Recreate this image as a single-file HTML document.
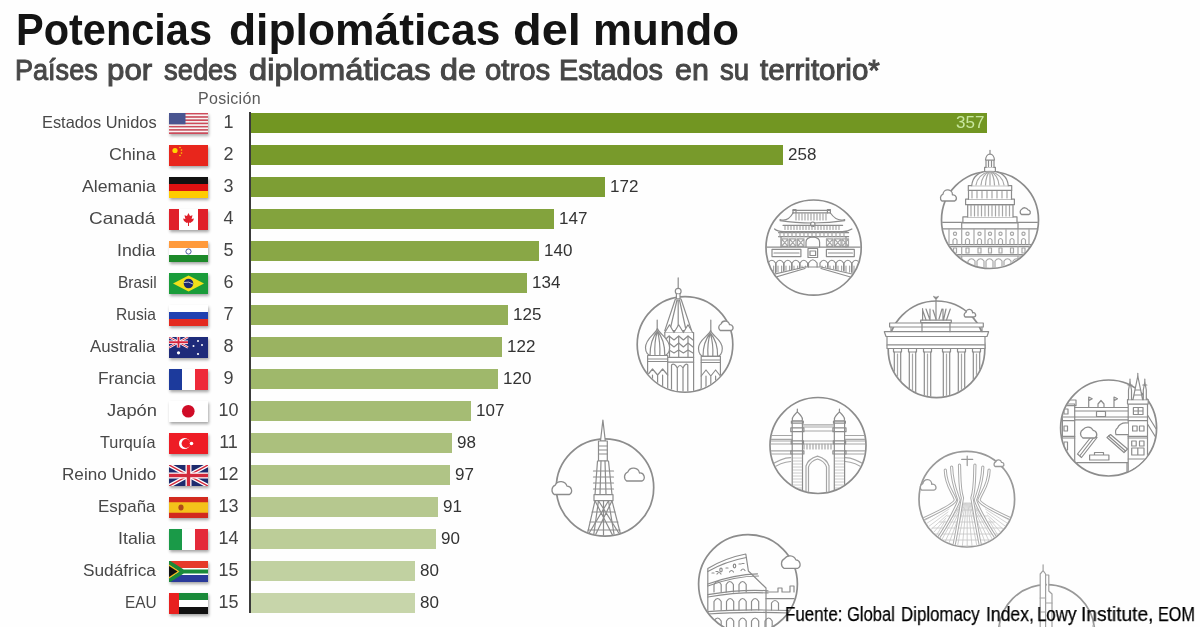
<!DOCTYPE html>
<html><head><meta charset="utf-8">
<style>
html,body{margin:0;padding:0;}
.pos,.val,#posl,#src span{will-change:transform;}
body{width:1200px;height:627px;overflow:hidden;background:#fefefe;position:relative;font-family:"Liberation Sans",sans-serif;}
.abs{position:absolute;}
#title span{position:absolute;top:6px;font-size:44px;font-weight:bold;color:#141414;white-space:nowrap;transform-origin:0 0;line-height:48px;}
#sub span{position:absolute;top:53.6px;font-size:29px;font-weight:normal;-webkit-text-stroke:1.0px #474747;color:#474747;white-space:nowrap;transform-origin:0 0;line-height:32px;}
#posl{position:absolute;left:198px;top:89.5px;font-size:16px;letter-spacing:0.3px;color:#5a5a5a;line-height:18px;white-space:nowrap;}
.name{position:absolute;font-size:16.5px;line-height:28px;color:#484848;white-space:nowrap;transform-origin:0 0;}
.fl{position:absolute;left:168.5px;width:39px;height:21px;}
.flag{display:block;filter:drop-shadow(1.5px 2px 1.5px rgba(0,0,0,0.35));}
.pos{position:absolute;left:208px;width:41px;text-align:center;font-size:18px;line-height:28px;color:#444;}
.bar{position:absolute;left:251px;height:20px;}
.val{position:absolute;font-size:17px;line-height:28px;color:#333;white-space:nowrap;}
.val.in{color:#c9e8a0;}
#axis{position:absolute;left:248.6px;top:112px;width:2.4px;height:500.5px;background:#3a3a3a;}
#illus{position:absolute;left:0;top:0;}
#illw{position:absolute;left:0;top:0;width:1200px;height:627px;}
#src span{position:absolute;top:602.9px;font-size:20px;color:#000;-webkit-text-stroke:0.25px #000;white-space:nowrap;transform-origin:0 0;line-height:22px;}
</style></head><body>
<div id="illw"><svg id="illus" width="1200" height="627" viewBox="0 0 1200 627">
<defs>
<clipPath id="c1"><circle cx="990" cy="220" r="47.9"/></clipPath>
<clipPath id="c2"><circle cx="813.6" cy="247.6" r="47.0"/></clipPath>
<clipPath id="c3"><circle cx="685" cy="344.4" r="47.199999999999996"/></clipPath>
<clipPath id="c4"><circle cx="936.5" cy="349.3" r="47.699999999999996"/></clipPath>
<clipPath id="c5"><circle cx="1108.6" cy="428" r="47.4"/></clipPath>
<clipPath id="c6"><circle cx="818" cy="445.5" r="47.4"/></clipPath>
<clipPath id="c7"><circle cx="605" cy="487.5" r="48.1"/></clipPath>
<clipPath id="c8"><circle cx="966.8" cy="499.2" r="47.199999999999996"/></clipPath>
<clipPath id="c9"><circle cx="748" cy="584" r="48.8"/></clipPath>
<clipPath id="c10"><circle cx="1046.6" cy="632.6" r="47.4"/></clipPath>
<clipPath id="c5b"><circle cx="1108.6" cy="428" r="47.4"/><rect x="1120" y="360" width="40" height="55"/></clipPath>
</defs>
<g fill="none" stroke="#8c8c8c" stroke-width="1.2" stroke-linecap="round" stroke-linejoin="round">
<circle cx="990" cy="220" r="48.5" fill="none" stroke="#8c8c8c" stroke-width="1.7"/>
<g clip-path="url(#c1)">
<path d="M940 222.4 H1040" />
<path d="M961.7 228.8 V222.9 H1018 V228.8" />
<path d="M940 228.8 H1040 M940 244.6 H1040 M940 246.6 H1040 M940 254.5 H1040 M940 256 H1040" />
<path d="M949 229 V244.6" stroke="#a6a6a6"/>
<path d="M961.7 229 V244.6" stroke="#a6a6a6"/>
<path d="M974 229 V244.6" stroke="#a6a6a6"/>
<path d="M985 229 V244.6" stroke="#a6a6a6"/>
<path d="M995 229 V244.6" stroke="#a6a6a6"/>
<path d="M1006 229 V244.6" stroke="#a6a6a6"/>
<path d="M1018 229 V244.6" stroke="#a6a6a6"/>
<path d="M1029 229 V244.6" stroke="#a6a6a6"/>
<circle cx="955" cy="233.8" r="1.6" stroke="#a6a6a6"/>
<path d="M953 244 V240 Q955 237 957 240 V244" stroke="#a6a6a6"/>
<path d="M953.5 248 h3 v5 h-3z" stroke="#a6a6a6"/>
<circle cx="967.5" cy="233.8" r="1.6" stroke="#a6a6a6"/>
<path d="M965.5 244 V240 Q967.5 237 969.5 240 V244" stroke="#a6a6a6"/>
<path d="M966.0 248 h3 v5 h-3z" stroke="#a6a6a6"/>
<circle cx="979.5" cy="233.8" r="1.6" stroke="#a6a6a6"/>
<path d="M977.5 244 V240 Q979.5 237 981.5 240 V244" stroke="#a6a6a6"/>
<path d="M978.0 248 h3 v5 h-3z" stroke="#a6a6a6"/>
<circle cx="990" cy="233.8" r="1.6" stroke="#a6a6a6"/>
<path d="M988 244 V240 Q990 237 992 240 V244" stroke="#a6a6a6"/>
<path d="M988.5 248 h3 v5 h-3z" stroke="#a6a6a6"/>
<circle cx="1000.5" cy="233.8" r="1.6" stroke="#a6a6a6"/>
<path d="M998.5 244 V240 Q1000.5 237 1002.5 240 V244" stroke="#a6a6a6"/>
<path d="M999.0 248 h3 v5 h-3z" stroke="#a6a6a6"/>
<circle cx="1012" cy="233.8" r="1.6" stroke="#a6a6a6"/>
<path d="M1010 244 V240 Q1012 237 1014 240 V244" stroke="#a6a6a6"/>
<path d="M1010.5 248 h3 v5 h-3z" stroke="#a6a6a6"/>
<circle cx="1023.5" cy="233.8" r="1.6" stroke="#a6a6a6"/>
<path d="M1021.5 244 V240 Q1023.5 237 1025.5 240 V244" stroke="#a6a6a6"/>
<path d="M1022.0 248 h3 v5 h-3z" stroke="#a6a6a6"/>
<path d="M949 246.6 V254.5 M949 256 V270" stroke="#a6a6a6"/>
<path d="M961.7 246.6 V254.5 M961.7 256 V270" stroke="#a6a6a6"/>
<path d="M1018 246.6 V254.5 M1018 256 V270" stroke="#a6a6a6"/>
<path d="M1029 246.6 V254.5 M1029 256 V270" stroke="#a6a6a6"/>
<path d="M968 268 V261 Q971.5 256.5 975 261 V268" stroke="#a6a6a6"/>
<path d="M977 268 V261 Q980.5 256.5 984 261 V268" stroke="#a6a6a6"/>
<path d="M986 268 V261 Q989.5 256.5 993 261 V268" stroke="#a6a6a6"/>
<path d="M995 268 V261 Q998.5 256.5 1002 261 V268" stroke="#a6a6a6"/>
<path d="M1004 268 V261 Q1007.5 256.5 1011 261 V268" stroke="#a6a6a6"/>
<path d="M1013 268 V261 Q1016.5 256.5 1020 261 V268" stroke="#a6a6a6"/>
</g>
<path d="M962.9 221.9 V216.9 H1017 V221.9" fill="#fff"/>
<path d="M967.7 216.9 V204.7 H1013 V216.9" fill="#fff"/>
<path d="M971 205.5 V216" stroke="#a6a6a6"/>
<path d="M974.5 205.5 V216" stroke="#a6a6a6"/>
<path d="M978 205.5 V216" stroke="#a6a6a6"/>
<path d="M981.5 205.5 V216" stroke="#a6a6a6"/>
<path d="M985 205.5 V216" stroke="#a6a6a6"/>
<path d="M988.5 205.5 V216" stroke="#a6a6a6"/>
<path d="M992 205.5 V216" stroke="#a6a6a6"/>
<path d="M995.5 205.5 V216" stroke="#a6a6a6"/>
<path d="M999 205.5 V216" stroke="#a6a6a6"/>
<path d="M1002.5 205.5 V216" stroke="#a6a6a6"/>
<path d="M1006 205.5 V216" stroke="#a6a6a6"/>
<path d="M1009.5 205.5 V216" stroke="#a6a6a6"/>
<path d="M965.6 204.7 V199.2 H1014.4 V204.7 Z" fill="#fff"/>
<path d="M968.5 199.2 V190.4 H1011.5 V199.2" fill="#fff"/>
<path d="M972 191.5 V198" stroke="#a6a6a6"/>
<path d="M977 191.5 V198" stroke="#a6a6a6"/>
<path d="M982 191.5 V198" stroke="#a6a6a6"/>
<path d="M987 191.5 V198" stroke="#a6a6a6"/>
<path d="M992 191.5 V198" stroke="#a6a6a6"/>
<path d="M997 191.5 V198" stroke="#a6a6a6"/>
<path d="M1002 191.5 V198" stroke="#a6a6a6"/>
<path d="M1007 191.5 V198" stroke="#a6a6a6"/>
<path d="M968.3 190.4 V185.7 H1011.7 V190.4 Z" fill="#fff"/>
<path d="M971.7 185.7 Q973 171.5 990 170.8 Q1007 171.5 1008.3 185.7" fill="#fff"/>
<path d="M976 185 Q977.4 175 990 171" stroke="#a6a6a6"/>
<path d="M981 185 Q981.9 175 990 171" stroke="#a6a6a6"/>
<path d="M985.5 185 Q986.0 175 990 171" stroke="#a6a6a6"/>
<path d="M990 185 Q990.0 175 990 171" stroke="#a6a6a6"/>
<path d="M994.5 185 Q994.0 175 990 171" stroke="#a6a6a6"/>
<path d="M999 185 Q998.1 175 990 171" stroke="#a6a6a6"/>
<path d="M1004 185 Q1002.6 175 990 171" stroke="#a6a6a6"/>
<path d="M984.6 170.8 V167.4 H995.4 V170.8" fill="#fff"/>
<path d="M986 167.4 V160 H994 V167.4 M988.5 161 V166.5 M991.5 161 V166.5" fill="#fff"/>
<path d="M985.5 160 Q986 154.5 990 154 Q994 154.5 994.5 160 Z" fill="#fff"/>
<path d="M990 154 V150.4"/>
<path d="M941.9 201.0 A4.0 4.0 0 0 1 943.0 194.2 A4.6 4.6 0 0 1 952.4 194.9 A3.3 3.3 0 0 1 954.7 201.0 Z" fill="#fff" stroke="#8c8c8c" stroke-width="1.3" stroke-linejoin="round"/>
<path d="M1021.5 214.5 A3.1 3.1 0 0 1 1021.8 209.2 A3.6 3.6 0 0 1 1027.9 209.8 A2.5 2.5 0 0 1 1029.0 214.5 Z" fill="#fff" stroke="#8c8c8c" stroke-width="1.3" stroke-linejoin="round"/>
<circle cx="813.6" cy="247.6" r="47.6" fill="none" stroke="#8c8c8c" stroke-width="1.7"/>
<g clip-path="url(#c2)">
<path d="M792.9 212.8 H830.4 M793 210.4 H830.4"/>
<path d="M793 213 V209.5 h3 v3.5 M827.4 213 V209.5 h3 v3.5"/>
<path d="M796 213.5 V220" stroke="#a6a6a6"/>
<path d="M799 213.5 V220" stroke="#a6a6a6"/>
<path d="M802 213.5 V220" stroke="#a6a6a6"/>
<path d="M805 213.5 V220" stroke="#a6a6a6"/>
<path d="M808 213.5 V220" stroke="#a6a6a6"/>
<path d="M811 213.5 V220" stroke="#a6a6a6"/>
<path d="M814 213.5 V220" stroke="#a6a6a6"/>
<path d="M817 213.5 V220" stroke="#a6a6a6"/>
<path d="M820 213.5 V220" stroke="#a6a6a6"/>
<path d="M823 213.5 V220" stroke="#a6a6a6"/>
<path d="M826 213.5 V220" stroke="#a6a6a6"/>
<path d="M780 219.5 Q788 222 793 213 M844.7 219.5 Q836.7 222 830.4 213"/>
<path d="M780 220.7 Q795 223 812.8 223 Q830 223 844.7 220.7" />
<circle cx="812.8" cy="224.2" r="2.2" fill="#fff"/>
<path d="M785 225.5 V229.5" stroke="#a6a6a6"/>
<path d="M788 225.5 V229.5" stroke="#a6a6a6"/>
<path d="M791 225.5 V229.5" stroke="#a6a6a6"/>
<path d="M794 225.5 V229.5" stroke="#a6a6a6"/>
<path d="M797 225.5 V229.5" stroke="#a6a6a6"/>
<path d="M800 225.5 V229.5" stroke="#a6a6a6"/>
<path d="M803 225.5 V229.5" stroke="#a6a6a6"/>
<path d="M806 225.5 V229.5" stroke="#a6a6a6"/>
<path d="M809 225.5 V229.5" stroke="#a6a6a6"/>
<path d="M812 225.5 V229.5" stroke="#a6a6a6"/>
<path d="M815 225.5 V229.5" stroke="#a6a6a6"/>
<path d="M818 225.5 V229.5" stroke="#a6a6a6"/>
<path d="M821 225.5 V229.5" stroke="#a6a6a6"/>
<path d="M824 225.5 V229.5" stroke="#a6a6a6"/>
<path d="M827 225.5 V229.5" stroke="#a6a6a6"/>
<path d="M830 225.5 V229.5" stroke="#a6a6a6"/>
<path d="M833 225.5 V229.5" stroke="#a6a6a6"/>
<path d="M836 225.5 V229.5" stroke="#a6a6a6"/>
<path d="M839 225.5 V229.5" stroke="#a6a6a6"/>
<path d="M783 225.3 H842.6"/>
<path d="M774.6 229 Q778 232 785 231.5 H840.5 Q847.5 232 851.9 229" />
<path d="M778.6 232.7 H848.6 M778.6 236.7 H848.6"/>
<path d="M780 232.7 V236.7" stroke="#a6a6a6"/>
<path d="M784 232.7 V236.7" stroke="#a6a6a6"/>
<path d="M788 232.7 V236.7" stroke="#a6a6a6"/>
<path d="M792 232.7 V236.7" stroke="#a6a6a6"/>
<path d="M796 232.7 V236.7" stroke="#a6a6a6"/>
<path d="M800 232.7 V236.7" stroke="#a6a6a6"/>
<path d="M804 232.7 V236.7" stroke="#a6a6a6"/>
<path d="M808 232.7 V236.7" stroke="#a6a6a6"/>
<path d="M812 232.7 V236.7" stroke="#a6a6a6"/>
<path d="M816 232.7 V236.7" stroke="#a6a6a6"/>
<path d="M820 232.7 V236.7" stroke="#a6a6a6"/>
<path d="M824 232.7 V236.7" stroke="#a6a6a6"/>
<path d="M828 232.7 V236.7" stroke="#a6a6a6"/>
<path d="M832 232.7 V236.7" stroke="#a6a6a6"/>
<path d="M836 232.7 V236.7" stroke="#a6a6a6"/>
<path d="M840 232.7 V236.7" stroke="#a6a6a6"/>
<path d="M844 232.7 V236.7" stroke="#a6a6a6"/>
<path d="M781 236.7 V247 M846 236.7 V247"/>
<path d="M781.5 238.8 h6.5 v7.5 h-6.5z M781.5 238.8 l6.5 7.5 M788.0 238.8 l-6.5 7.5" stroke="#a6a6a6"/>
<path d="M789.5 238.8 h6.5 v7.5 h-6.5z M789.5 238.8 l6.5 7.5 M796.0 238.8 l-6.5 7.5" stroke="#a6a6a6"/>
<path d="M797.5 238.8 h6.5 v7.5 h-6.5z M797.5 238.8 l6.5 7.5 M804.0 238.8 l-6.5 7.5" stroke="#a6a6a6"/>
<path d="M826.5 238.8 h6.5 v7.5 h-6.5z M826.5 238.8 l6.5 7.5 M833.0 238.8 l-6.5 7.5" stroke="#a6a6a6"/>
<path d="M834.5 238.8 h6.5 v7.5 h-6.5z M834.5 238.8 l6.5 7.5 M841.0 238.8 l-6.5 7.5" stroke="#a6a6a6"/>
<path d="M842 238.8 h6.5 v7.5 h-6.5z M842 238.8 l6.5 7.5 M848.5 238.8 l-6.5 7.5" stroke="#a6a6a6"/>
<path d="M806 247 V242 Q806 237.5 812.8 236.8 Q819.6 237.5 819.6 242 V247"/>
<path d="M766.0 247.2 H861.2"/>
<path d="M772 249.4 h28.9 v7.2 h-28.9z M826.4 249.4 h27.9 v7.2 h-27.9z"/>
<path d="M774 253 h25 M828.4 253 h24" stroke="{L}"/>
<path d="M808 248.5 h9.6 v9 h-9.6z M810 251 h5.6 v4.5 h-5.6z"/>
<path d="M768 273.5 V263 Q771.8 257.5 775.6 263 V272.7"/>
<path d="M770 273.5 V266 M773.6 273.5 V266" stroke="#a6a6a6"/>
<path d="M776 271.9 V263 Q779.8 257.5 783.6 263 V271.09999999999997"/>
<path d="M778 271.9 V266 M781.6 271.9 V266" stroke="#a6a6a6"/>
<path d="M784 270.3 V263 Q787.8 257.5 791.6 263 V269.5"/>
<path d="M786 270.3 V266 M789.6 270.3 V266" stroke="#a6a6a6"/>
<path d="M792 268.7 V263 Q795.8 257.5 799.6 263 V267.9"/>
<path d="M794 268.7 V266 M797.6 268.7 V266" stroke="#a6a6a6"/>
<path d="M800 267.1 V263 Q803.8 257.5 807.6 263 V266.3"/>
<path d="M802 267.1 V266 M805.6 267.1 V266" stroke="#a6a6a6"/>
<path d="M808.5 267 V263 Q812.8 256.5 817.1 263 V267"/>
<path d="M859.6 273.5 V263 Q855.8 257.5 852 263 V272.7"/>
<path d="M854 273.5 V266 M857.6 273.5 V266" stroke="#a6a6a6"/>
<path d="M851.6 271.9 V263 Q847.8 257.5 844 263 V271.09999999999997"/>
<path d="M846 271.9 V266 M849.6 271.9 V266" stroke="#a6a6a6"/>
<path d="M843.6 270.3 V263 Q839.8 257.5 836 263 V269.5"/>
<path d="M838 270.3 V266 M841.6 270.3 V266" stroke="#a6a6a6"/>
<path d="M835.6 268.7 V263 Q831.8 257.5 828 263 V267.9"/>
<path d="M830 268.7 V266 M833.6 268.7 V266" stroke="#a6a6a6"/>
<path d="M827.6 267.1 V263 Q823.8 257.5 820 263 V266.3"/>
<path d="M822 267.1 V266 M825.6 267.1 V266" stroke="#a6a6a6"/>
<path d="M766 276 L805 267 H821 L861 276"/>
<path d="M766 280 L805 268.5 M861 280 L821 268.5" stroke="{L}"/>
</g>
<circle cx="685" cy="344.4" r="47.8" fill="none" stroke="#8c8c8c" stroke-width="1.7"/>
<path d="M678.2 277.9 V288"/>
<circle cx="678.2" cy="291.3" r="2.9" fill="#fff"/>
<path d="M676.4 294.3 V299 H680 V294.3" fill="#fff"/>
<path d="M675.4 299 L664.8 330.6 H691.6 L681 299 Z" fill="#fff"/>
<path d="M677 300 L670 330 M679.5 300 L686 330 M678.2 300 V330" stroke="{L}"/>
<g clip-path="url(#c3)">
<path d="M664.8 332.5 H693.6 V392 H664.8 Z" fill="#fff"/>
<path d="M664.8 332.5 L669.5 324.8 L674 332.5 M674 332.5 L678.7 324.8 L683.4 332.5 M683.4 332.5 L688 324.8 L692.6 332.5" fill="#fff"/>
<path d="M664.8 357.4 H693.6 M664.8 362.2 H693.6"/>
<path d="M664.8 340 L669 336 L674 340 L678.7 336 L683.4 340 L688 336 L693 340 M664.8 347 L669 343 L674 347 L678.7 343 L683.4 347 L688 343 L693 347 M664.8 353 L669 350 L674 353 L678.7 350 L683.4 353 L688 350 L693 353" stroke="{L}"/>
<path d="M669.5 336 V357 M678.7 336 V357 M688 336 V357" stroke="{L}"/>
<path d="M671.5 392 V365 M677.3 392 V368 M683 392 V368 M687.8 392 V365 M671.5 365 Q674.5 362.5 677.3 368 Q680 363 683 368 Q685.5 362.5 687.8 365" stroke="{L}"/>
<path d="M657.2 320 V330.5"/>
<path d="M657.4 328.5 C659 334 669.6 338 669.6 347.8 C669.6 353 666.5 355.5 664 355.5 H651 C648.5 355.5 645.5 353 645.5 347.8 C645.5 338 655.8 334 657.4 328.5 Z" fill="#fff"/>
<path d="M657.4 331 Q650 340 650 355.5 M657.4 331 Q654 342 655 355.5 M657.4 331 Q660.5 342 659.8 355.5 M657.4 331 Q665 340 664.8 355.5" stroke="{L}"/>
<path d="M647.6 355.5 H667.7 V392 H647.6Z" fill="#fff"/>
<path d="M647.6 359 H667.7 M647.6 361.5 H667.7 M647.6 375 L652.5 369 L657.6 375 L662.6 369 L667.7 375 M652.5 375 V392 M657.6 375 V392 M662.6 375 V392" stroke="{L}"/>
<path d="M710.8 320 V332.5"/>
<path d="M710.6 330.5 C712.2 336 722.3 339.5 722.3 348.5 C722.3 354 719.5 356.4 717 356.4 H704 C701.5 356.4 698.5 354 698.5 348.5 C698.5 339.5 709 336 710.6 330.5 Z" fill="#fff"/>
<path d="M710.3 333 Q703 342 703 356.4 M710.3 333 Q707 344 708 356.4 M710.3 333 Q713.5 344 712.8 356.4 M710.3 333 Q718 342 717.6 356.4" stroke="{L}"/>
<path d="M701.2 356.4 H720.4 V392 H701.2Z" fill="#fff"/>
<path d="M701.2 360 H720.4 M701.2 362.5 H720.4 M701.2 376 L706 370 L710.8 376 L715.6 370 L720.4 376 M706 376 V392 M710.8 376 V392 M715.6 376 V392" stroke="{L}"/>
</g>
<path d="M720.2 330.5 A3.8 3.8 0 0 1 721.0 324.0 A4.4 4.4 0 0 1 729.5 324.7 A3.1 3.1 0 0 1 731.4 330.5 Z" fill="#fff" stroke="#8c8c8c" stroke-width="1.3" stroke-linejoin="round"/>
<circle cx="936.5" cy="349.3" r="48.3" fill="none" stroke="#8c8c8c" stroke-width="1.7"/>
<path d="M884.3 331.7 H988.6 L987 336.5 H886 Z" fill="#fff"/>
<path d="M887 336.5 H985 V345 H887Z" fill="#fff"/>
<path d="M887 345 H985 V348.5 H887Z" fill="#fff"/>
<path d="M889.6 323 H983.3 V327 H889.6Z" fill="#fff"/>
<path d="M891 327 V331.7 M982 327 V331.7"/>
<path d="M920.7 320.2 H951.3 V322.6 H920.7Z" fill="#fff"/>
<path d="M922 322.6 V331.7 M950 322.6 V331.7" />
<path d="M922.6 308.7 V320 M922.6 310 L926 320 M926 309 L930 320 M930 309 V320 M933 310 L936 319 M939 319 L942 309 M943 309 V320 M946 309 L943.5 320 M950.3 309 L946.5 320" />
<path d="M936 296.8 V319.7 M933.8 296.5 L936 299 L938.2 296.5"/>
<g clip-path="url(#c4)">
<path d="M893.5 348.5 V352 h8 V348.5" />
<path d="M894.3 352 V400 M900.7 352 V400"/>
<path d="M897.5 354 V400" stroke="#a6a6a6"/>
<path d="M908.5 348.5 V352 h8 V348.5" />
<path d="M909.3 352 V400 M915.7 352 V400"/>
<path d="M912.5 354 V400" stroke="#a6a6a6"/>
<path d="M923.5 348.5 V352 h8 V348.5" />
<path d="M924.3 352 V400 M930.7 352 V400"/>
<path d="M927.5 354 V400" stroke="#a6a6a6"/>
<path d="M942.5 348.5 V352 h8 V348.5" />
<path d="M943.3 352 V400 M949.7 352 V400"/>
<path d="M946.5 354 V400" stroke="#a6a6a6"/>
<path d="M957.5 348.5 V352 h8 V348.5" />
<path d="M958.3 352 V400 M964.7 352 V400"/>
<path d="M961.5 354 V400" stroke="#a6a6a6"/>
<path d="M972.5 348.5 V352 h8 V348.5" />
<path d="M973.3 352 V400 M979.7 352 V400"/>
<path d="M976.5 354 V400" stroke="#a6a6a6"/>
</g>
<path d="M965.1 317.0 A2.7 2.7 0 0 1 966.0 312.4 A3.1 3.1 0 0 1 972.6 312.9 A2.2 2.2 0 0 1 974.2 317.0 Z" fill="#fff" stroke="#8c8c8c" stroke-width="1.3" stroke-linejoin="round"/>
<circle cx="1108.6" cy="428" r="48" fill="none" stroke="#8c8c8c" stroke-width="1.7"/>
<g clip-path="url(#c5)">
<path d="M1062.4 476 V404 H1074.7 V476"/>
<path d="M1060 400 H1076 V405.7 H1060" />
<path d="M1062.4 417 H1074.7 M1062.4 420.6 H1074.7 M1062.4 436.4 H1074.7 M1062.4 438 H1074.7" stroke="{L}"/>
<path d="M1064 426 h3.5 v5 h-3.5z M1064 442 h3.5 v8 h-3.5z M1064 409 h4 v5 h-4z" stroke="{L}"/>
<path d="M1074.7 407.5 H1128.2 M1074.7 411 H1128.2 M1074.7 417 H1128.2 M1074.7 419.8 H1128.2"/>
<path d="M1098 407.5 V404 L1101 400.5 L1104 404 V407.5 M1096.5 411.5 h9 v5 h-9z" stroke="{L}"/>
<path d="M1088.7 407.5 V397 l3.5 1.8 -3.5 1.8 M1114 407.5 V397 l3.5 1.8 -3.5 1.8"/>
<path d="M1077.5 454 L1093 434.5 L1097 437.5 L1081.5 457.5 Z" fill="#fff"/>
<path d="M1080 455.5 L1095 436" stroke="{L}"/>
<path d="M1127.5 449 L1110.5 434.5 L1107 437.5 L1124 452.5 Z" fill="#fff"/>
<path d="M1125.5 451 L1108.5 436" stroke="{L}"/>
<path d="M1089.6 455 h19.3 v5 h-19.3z M1094.5 455 v-2.5 h9 v2.5"/>
<path d="M1076 462.7 H1128 M1077 462.7 V480 M1127 462.7 V480"/>
</g>
<g clip-path="url(#c5b)">
<path d="M1128.2 476 V404 H1147.5 V476 Z" fill="#fff"/>
<path d="M1127.5 399.6 H1148.2 V404 H1127.5Z" fill="#fff"/>
<path d="M1128.2 417 H1147.5 M1128.2 420.6 H1147.5 M1128.2 436.4 H1147.5 M1128.2 438 H1147.5 M1128.2 459 H1147.5"/>
<path d="M1133.4 407.5 h9.6 v7 h-9.6z M1138.2 407.5 v7 M1133.4 411 h9.6" stroke="{L}"/>
<path d="M1132.6 426 h4.5 v5 h-4.5z M1139.5 426 h4.5 v5 h-4.5z" stroke="{L}"/>
<path d="M1131.7 441 h4.5 v5 h-4.5z M1139.5 441 h4.5 v5 h-4.5z M1131.7 448 h12.3 v7 h-12.3z M1137.8 448 v7" stroke="{L}"/>
<path d="M1128.5 399.6 V390 L1130 382 L1131.5 390 V399.6 M1143.3 399.6 V390 L1144.8 382 L1146.3 390 V399.6 M1133 399.6 L1137.8 376 L1142.6 399.6" fill="#fff"/>
<path d="M1137.8 376 V373.3 M1130 382 V379 M1144.8 382 V379 M1128 385 h4 M1142.8 385 h4"/>
<path d="M1135 390 h5.6 M1134 395 h7.6" stroke="{L}"/>
<path d="M1147.5 415 L1158 432 M1147.5 424 L1158 441" stroke="{L}"/>
</g>
<path d="M1082.9 438.0 A5.0 5.0 0 0 1 1083.2 429.3 A5.9 5.9 0 0 1 1093.1 430.3 A4.2 4.2 0 0 1 1094.8 438.0 Z" fill="#fff" stroke="#8c8c8c" stroke-width="1.3" stroke-linejoin="round"/>
<path d="M1128 423 Q1120 422 1117.5 428 Q1114.5 430 1116 434.7 H1128" fill="#fff"/>
<circle cx="818" cy="445.5" r="48" fill="none" stroke="#8c8c8c" stroke-width="1.7"/>
<g clip-path="url(#c6)" stroke="#a6a6a6">
<path d="M770 435.5 H792 M845 435.5 H866 M770 439.3 H792 M845 439.3 H866 M770 441 H792 M845 441 H866 M770 444 H792 M845 444 H866 M770 450.8 H792 M845 450.8 H866 M770 454 H792 M845 454 H866"/>
<path d="M802.2 424.8 H834.3 M802.2 427 H834.3 M802.2 431 H834.3 M802.2 441 H834.3 M802.2 444 H834.3"/>
<path d="M804 444 V449"/>
<path d="M807 444 V449"/>
<path d="M810 444 V449"/>
<path d="M813 444 V449"/>
<path d="M816 444 V449"/>
<path d="M819 444 V449"/>
<path d="M822 444 V449"/>
<path d="M825 444 V449"/>
<path d="M828 444 V449"/>
<path d="M831 444 V449"/>
<path d="M806 494 V466 Q808 459 817.5 456.2 Q827 459 829 466 V494"/>
<path d="M808.5 494 V467 Q810.5 461 817.5 459 Q824.5 461 826.5 467 V494"/>
<path d="M770 466 Q781 458 790.7 457.7 M866 466 Q855 458 845.3 457.7 M770 470 Q781 462 790.7 461.5 M866 470 Q855 462 845.3 461.5"/>
<path d="M793 458 H801.5 M835 458 H844.3" stroke="#c6c6c6" stroke-width="0.9"/>
<path d="M793 461 H801.5 M835 461 H844.3" stroke="#c6c6c6" stroke-width="0.9"/>
<path d="M793 464 H801.5 M835 464 H844.3" stroke="#c6c6c6" stroke-width="0.9"/>
<path d="M793 467 H801.5 M835 467 H844.3" stroke="#c6c6c6" stroke-width="0.9"/>
<path d="M793 470 H801.5 M835 470 H844.3" stroke="#c6c6c6" stroke-width="0.9"/>
<path d="M793 473 H801.5 M835 473 H844.3" stroke="#c6c6c6" stroke-width="0.9"/>
<path d="M793 476 H801.5 M835 476 H844.3" stroke="#c6c6c6" stroke-width="0.9"/>
<path d="M793 479 H801.5 M835 479 H844.3" stroke="#c6c6c6" stroke-width="0.9"/>
<path d="M793 482 H801.5 M835 482 H844.3" stroke="#c6c6c6" stroke-width="0.9"/>
<path d="M793 485 H801.5 M835 485 H844.3" stroke="#c6c6c6" stroke-width="0.9"/>
<path d="M793 488 H801.5 M835 488 H844.3" stroke="#c6c6c6" stroke-width="0.9"/>
<path d="M793 491 H801.5 M835 491 H844.3" stroke="#c6c6c6" stroke-width="0.9"/>
</g>
<g clip-path="url(#c6)">
<path d="M792.2 500 V421 M802.5 500 V421"/>
<path d="M792.7 421 C790.7 417 795.2 414.5 797.35 411.8 C799.5 414.5 804.0 417 802.0 421 Z"/>
<path d="M791.4000000000001 421 h11.9 v2.2 h-11.9z"/>
<path d="M797.35 411.8 V409"/>
<path d="M790.8000000000001 427.9 h13.100000000000001 v3.8 h-13.100000000000001z M791.2 440.9 h12.3 v3 h-12.3z M790.8000000000001 450.8 h13.100000000000001 v3.2 h-13.100000000000001z"/>
<path d="M834.3 500 V421 M844.5999999999999 500 V421"/>
<path d="M834.8 421 C832.8 417 837.3 414.5 839.4499999999999 411.8 C841.5999999999999 414.5 846.0999999999999 417 844.0999999999999 421 Z"/>
<path d="M833.5 421 h11.9 v2.2 h-11.9z"/>
<path d="M839.4499999999999 411.8 V409"/>
<path d="M832.9 427.9 h13.100000000000001 v3.8 h-13.100000000000001z M833.3 440.9 h12.3 v3 h-12.3z M832.9 450.8 h13.100000000000001 v3.2 h-13.100000000000001z"/>
</g>
<circle cx="605" cy="487.5" r="48.7" fill="none" stroke="#8c8c8c" stroke-width="1.7"/>
<path d="M602.9 420 L600.5 441 H605.3 Z" fill="#fff"/>
<path d="M598.5 441 H607.3 V461 H598.5 Z" fill="#fff"/>
<path d="M598.5 446 H607.3 M598.5 450 H607.3 M598.5 454 H607.3" stroke="{L}"/>
<path d="M597.5 461 L595 494.7 H612 L608.5 461 Z" fill="#fff"/>
<path d="M601 461 L600 494.7 M605 461 L606 494.7" stroke="{L}"/>
<path d="M593.5 471 H613.5"/>
<path d="M593.5 477 H613.5"/>
<path d="M593.5 483 H613.5"/>
<path d="M593.5 489 H613.5"/>
<path d="M594 494.7 H613 V500.7 H594 Z" fill="#fff"/>
<g clip-path="url(#c7)">
<path d="M595 500.7 L586 540 M612 500.7 L622 540"/>
<path d="M598.5 500.7 L593 540 M608.5 500.7 L615 540 M603.5 500.7 V540" stroke="{L}"/>
<path d="M595 500.7 L615 540 M612 500.7 L593 540 M598.5 500.7 L620 535 M608.5 500.7 L588 535 M592 512 H615 M590 522 H618 M588 530 H620" stroke="{L}"/>
</g>
<path d="M554.2 494.5 A5.4 5.4 0 0 1 555.2 485.2 A6.3 6.3 0 0 1 567.0 486.2 A4.5 4.5 0 0 1 569.5 494.5 Z" fill="#fff" stroke="#8c8c8c" stroke-width="1.3" stroke-linejoin="round"/>
<path d="M626.6 481.0 A5.2 5.2 0 0 1 627.8 472.0 A6.1 6.1 0 0 1 639.5 473.0 A4.3 4.3 0 0 1 642.1 481.0 Z" fill="#fff" stroke="#8c8c8c" stroke-width="1.3" stroke-linejoin="round"/>
<circle cx="966.8" cy="499.2" r="47.8" fill="none" stroke="#999" stroke-width="1.7"/>
<g clip-path="url(#c8)" stroke="#a6a6a6">
<path d="M967.2 456 V465.6 M961.7 459.4 H972.7" stroke="#999"/>
<path d="M961.6 503 L930.8 550" stroke="#c4c4c4" stroke-width="0.8"/>
<path d="M962.4 503 L936.0 550" stroke="#c4c4c4" stroke-width="0.8"/>
<path d="M963.2 503 L941.2 550" stroke="#c4c4c4" stroke-width="0.8"/>
<path d="M964.0 503 L946.4 550" stroke="#c4c4c4" stroke-width="0.8"/>
<path d="M964.8 503 L951.6 550" stroke="#c4c4c4" stroke-width="0.8"/>
<path d="M965.6 503 L956.8 550" stroke="#c4c4c4" stroke-width="0.8"/>
<path d="M966.4 503 L962.0 550" stroke="#c4c4c4" stroke-width="0.8"/>
<path d="M967.2 503 L967.2 550" stroke="#c4c4c4" stroke-width="0.8"/>
<path d="M968.0 503 L972.4 550" stroke="#c4c4c4" stroke-width="0.8"/>
<path d="M968.8 503 L977.6 550" stroke="#c4c4c4" stroke-width="0.8"/>
<path d="M969.6 503 L982.8 550" stroke="#c4c4c4" stroke-width="0.8"/>
<path d="M970.4 503 L988.0 550" stroke="#c4c4c4" stroke-width="0.8"/>
<path d="M971.2 503 L993.2 550" stroke="#c4c4c4" stroke-width="0.8"/>
<path d="M972.0 503 L998.4 550" stroke="#c4c4c4" stroke-width="0.8"/>
<path d="M972.8 503 L1003.6 550" stroke="#c4c4c4" stroke-width="0.8"/>
<path d="M954.7 510 H979.7" stroke="#c4c4c4" stroke-width="0.8"/>
<path d="M947.2 516 H987.2" stroke="#c4c4c4" stroke-width="0.8"/>
<path d="M939.7 522 H994.7" stroke="#c4c4c4" stroke-width="0.8"/>
<path d="M932.2 528 H1002.2" stroke="#c4c4c4" stroke-width="0.8"/>
<path d="M924.7 534 H1009.7" stroke="#c4c4c4" stroke-width="0.8"/>
<path d="M917.2 540 H1017.2" stroke="#c4c4c4" stroke-width="0.8"/>
<path d="M909.7 546 H1024.7" stroke="#c4c4c4" stroke-width="0.8"/>
<path d="M922.0 522.0 L950.0 506.0 M1012.4 522.0 L984.4 506.0" stroke="#c8c8c8" stroke-width="0.8"/>
<path d="M925.0 524.5 L949.0 509.0 M1009.4 524.5 L985.4 509.0" stroke="#c8c8c8" stroke-width="0.8"/>
<path d="M928.0 527.0 L948.0 512.0 M1006.4 527.0 L986.4 512.0" stroke="#c8c8c8" stroke-width="0.8"/>
<path d="M931.0 529.5 L947.0 515.0 M1003.4 529.5 L987.4 515.0" stroke="#c8c8c8" stroke-width="0.8"/>
<path d="M934.0 532.0 L946.0 518.0 M1000.4 532.0 L988.4 518.0" stroke="#c8c8c8" stroke-width="0.8"/>
<path d="M937.0 534.5 L945.0 521.0 M997.4 534.5 L989.4 521.0" stroke="#c8c8c8" stroke-width="0.8"/>
<path d="M989.1 470 C988.6 486 981.9 491 978.9 500 C979.9 504 997.9 513.0 1013.4 520" stroke="#aaa" stroke-width="3.2"/>
<path d="M989.1 470 C988.6 486 981.9 491 978.9 500 C979.9 504 997.9 513.0 1013.4 520" stroke="#fff" stroke-width="1.2"/>
<path d="M945.3 470 C945.8 486 952.5 491 955.5 500 C954.5 504 936.5 513.0 921.0 520" stroke="#aaa" stroke-width="3.2"/>
<path d="M945.3 470 C945.8 486 952.5 491 955.5 500 C954.5 504 936.5 513.0 921.0 520" stroke="#fff" stroke-width="1.2"/>
<path d="M982.8 467 C982.3 483 978.4 491 975.4 500 C976.4 504 987.5 526.0 997.4 540" stroke="#aaa" stroke-width="3.2"/>
<path d="M982.8 467 C982.3 483 978.4 491 975.4 500 C976.4 504 987.5 526.0 997.4 540" stroke="#fff" stroke-width="1.2"/>
<path d="M951.6 467 C952.1 483 956.0 491 959.0 500 C958.0 504 946.9 526.0 937.0 540" stroke="#aaa" stroke-width="3.2"/>
<path d="M951.6 467 C952.1 483 956.0 491 959.0 500 C958.0 504 946.9 526.0 937.0 540" stroke="#fff" stroke-width="1.2"/>
<path d="M974.9 465 C974.4 481 974.9 489 971.9 498 C972.9 502 977.1 531.8 981.4 550" stroke="#aaa" stroke-width="3.2"/>
<path d="M974.9 465 C974.4 481 974.9 489 971.9 498 C972.9 502 977.1 531.8 981.4 550" stroke="#fff" stroke-width="1.2"/>
<path d="M959.5 465 C960.0 481 959.5 489 962.5 498 C961.5 502 957.3 531.8 953.0 550" stroke="#aaa" stroke-width="3.2"/>
<path d="M959.5 465 C960.0 481 959.5 489 962.5 498 C961.5 502 957.3 531.8 953.0 550" stroke="#fff" stroke-width="1.2"/>
</g>
<path d="M921.7 490.2 A3.8 3.8 0 0 1 922.8 483.7 A4.4 4.4 0 0 1 931.7 484.4 A3.1 3.1 0 0 1 933.9 490.2 Z" fill="#fff" stroke="#999" stroke-width="1.3" stroke-linejoin="round"/>
<path d="M995.1 466.5 A2.7 2.7 0 0 1 995.6 461.9 A3.1 3.1 0 0 1 1001.5 462.4 A2.2 2.2 0 0 1 1002.8 466.5 Z" fill="#fff" stroke="#999" stroke-width="1.3" stroke-linejoin="round"/>
<circle cx="748" cy="584" r="49.4" fill="none" stroke="#8c8c8c" stroke-width="1.7"/>
<g clip-path="url(#c9)">
<path d="M707.8 627 V568.5 Q725 558 745.8 554 L748.4 571 L766 588 V627"/>
<path d="M707.8 571.5 Q725 561.5 746.3 557.5" />
<path d="M707.8 584 Q735 574 757.5 573.8 M707.8 586 Q735 576 758.5 576"/>
<ellipse cx="721" cy="570" rx="1.2" ry="1.8" stroke="{L}"/><ellipse cx="734.5" cy="566" rx="1.2" ry="1.8" stroke="{L}"/>
<path d="M712 573 h2 M716 571.5 h2 M726 568 h2 M739 564 h2 M742 563.5 h2" stroke="{L}"/>
<path d="M717 574 Q719 571 721 574 M729.5 572 Q731.5 569 733.5 572 M741 570.5 Q743 567.5 745 570.5" stroke="{L}"/>
<path d="M714 592 V584.5 Q717.6 578.5 721.2 584.5 V592"/>
<path d="M726.2 592 V584.5 Q729.8000000000001 578.5 733.4000000000001 584.5 V592"/>
<path d="M739 592 V584.5 Q742.6 578.5 746.2 584.5 V592"/>
<path d="M707.8 594.7 Q740 589 768 590.75 M707.8 597 Q740 591.5 768 593"/>
<path d="M714 610 V601.5 Q717.6 595.5 721.2 601.5 V610"/>
<path d="M726.5 610 V601.5 Q730.1 595.5 733.7 601.5 V610"/>
<path d="M739 610 V601.5 Q742.6 595.5 746.2 601.5 V610"/>
<path d="M751.5 610 V601.5 Q755.1 595.5 758.7 601.5 V610"/>
<path d="M771.5 610 V603 Q775 598 778.5 603 V610"/>
<path d="M707.8 611.7 Q740 609 790 610.5 M707.8 614 Q740 611.5 790 613"/>
<path d="M714 630 V621 Q717.6 615 721.2 621 V630"/>
<path d="M726.5 630 V621 Q730.1 615 733.7 621 V630"/>
<path d="M739 630 V621 Q742.6 615 746.2 621 V630"/>
<path d="M751.5 630 V621 Q755.1 615 758.7 621 V630"/>
<path d="M765 630 V621 Q768.6 615 772.2 621 V630"/>
<path d="M766 598.6 H800 M766 592 H778 V588 H782 V592 H790 V586 H794 V592" />
</g>
<path d="M783.9 568.3 A5.6 5.6 0 0 1 784.5 558.7 A6.5 6.5 0 0 1 795.8 559.8 A4.6 4.6 0 0 1 797.9 568.3 Z" fill="#fff" stroke="#8c8c8c" stroke-width="1.3" stroke-linejoin="round"/>
<circle cx="1046.6" cy="632.6" r="48" fill="none" stroke="#999" stroke-width="1.7"/>
<path d="M1043.1 564.8 V570.7 M1040.2 627 V574 L1043.1 570.7 L1045.6 574 V585.6 M1045.6 627 V580 M1045.6 575 H1048.8 V591 L1052 594 V627" fill="#fff" stroke="#a0a0a0"/>
<path d="M1040.2 598 h5.4 M1045.6 603 h6.4 M1040.2 612 h5.4" stroke="#a6a6a6"/>
<path d="M1000 625 V627 M1093 625 V627" stroke="#bbb"/>
</g>
</svg></div>
<div id="title"><span style="left:15.67px;transform:scaleX(0.9429)">Potencias</span><span style="left:229.18px;transform:scaleX(1.0089)">diplomáticas</span><span style="left:513.08px;transform:scaleX(1.0666)">del</span><span style="left:593.11px;transform:scaleX(0.9958)">mundo</span></div>
<div id="sub"><span style="left:15.26px;transform:scaleX(0.9331)">Países</span><span style="left:107.2px;transform:scaleX(1.0795)">por</span><span style="left:163.5px;transform:scaleX(0.9437)">sedes</span><span style="left:249.15px;transform:scaleX(1.1265)">diplomáticas</span><span style="left:440.17px;transform:scaleX(1.1111)">de</span><span style="left:485.28px;transform:scaleX(1.0129)">otros</span><span style="left:559.12px;transform:scaleX(0.9921)">Estados</span><span style="left:675.24px;transform:scaleX(1.0481)">en</span><span style="left:719.74px;transform:scaleX(0.9498)">su</span><span style="left:760.09px;transform:scaleX(1.0188)">territorio*</span></div>
<div id="posl">Posición</div>
<div class="name" style="top:107.5px;left:41.51px;transform:scaleX(0.9921)">Estados Unidos</div>
<div class="fl" style="top:112.5px"><svg class="flag" width="39" height="21" viewBox="0 0 39 21"><rect x="0" y="0.00" width="39" height="1.67" fill="#cf4a5a"/><rect x="0" y="1.62" width="39" height="1.67" fill="#fbf4f4"/><rect x="0" y="3.23" width="39" height="1.67" fill="#cf4a5a"/><rect x="0" y="4.85" width="39" height="1.67" fill="#fbf4f4"/><rect x="0" y="6.46" width="39" height="1.67" fill="#cf4a5a"/><rect x="0" y="8.08" width="39" height="1.67" fill="#fbf4f4"/><rect x="0" y="9.69" width="39" height="1.67" fill="#cf4a5a"/><rect x="0" y="11.31" width="39" height="1.67" fill="#fbf4f4"/><rect x="0" y="12.92" width="39" height="1.67" fill="#cf4a5a"/><rect x="0" y="14.54" width="39" height="1.67" fill="#fbf4f4"/><rect x="0" y="16.15" width="39" height="1.67" fill="#cf4a5a"/><rect x="0" y="17.77" width="39" height="1.67" fill="#fbf4f4"/><rect x="0" y="19.38" width="39" height="1.67" fill="#cf4a5a"/><rect x="0" y="0" width="16.5" height="11.31" fill="#4a5590"/></svg></div>
<div class="pos" style="top:107.6px">1</div>
<div class="bar" style="top:112.5px;width:736.0px;background:rgb(114, 150, 34)"></div>
<div class="val in" style="top:108.5px;left:956.0px">357</div>
<div class="name" style="top:139.5px;left:108.93px;transform:scaleX(1.0827)">China</div>
<div class="fl" style="top:144.5px"><svg class="flag" width="39" height="21" viewBox="0 0 39 21"><rect width="39" height="21" fill="#e8261c"/><circle cx="6" cy="5.5" r="2.6" fill="#ffd600"/><circle cx="11" cy="2.5" r="0.8" fill="#ffd600"/><circle cx="12.5" cy="5" r="0.8" fill="#ffd600"/><circle cx="12.5" cy="8" r="0.8" fill="#ffd600"/><circle cx="11" cy="10.5" r="0.8" fill="#ffd600"/></svg></div>
<div class="pos" style="top:139.6px">2</div>
<div class="bar" style="top:144.5px;width:531.6px;background:rgb(120, 154, 43)"></div>
<div class="val" style="top:140.5px;left:787.6px">258</div>
<div class="name" style="top:171.5px;left:81.69px;transform:scaleX(1.0742)">Alemania</div>
<div class="fl" style="top:176.5px"><svg class="flag" width="39" height="21" viewBox="0 0 39 21"><rect width="39" height="7" fill="#111"/><rect y="7" width="39" height="7" fill="#dd1111"/><rect y="14" width="39" height="7" fill="#ffcc00"/></svg></div>
<div class="pos" style="top:171.6px">3</div>
<div class="bar" style="top:176.5px;width:354.1px;background:rgb(125, 158, 52)"></div>
<div class="val" style="top:172.5px;left:610.1px">172</div>
<div class="name" style="top:203.5px;left:89.18px;transform:scaleX(1.1491)">Canadá</div>
<div class="fl" style="top:208.5px"><svg class="flag" width="39" height="21" viewBox="0 0 39 21"><rect width="39" height="21" fill="#fff"/><rect width="10" height="21" fill="#e0202a"/><rect x="29" width="10" height="21" fill="#e0202a"/><path d="M19.5 4 L21 7 L23.5 6.2 L22.6 10 L25 9.6 L24 12 L21.2 14 L20 13.6 L20 17 L19 17 L19 13.6 L17.8 14 L15 12 L14 9.6 L16.4 10 L15.5 6.2 L18 7 Z" fill="#e0202a"/></svg></div>
<div class="pos" style="top:203.6px">4</div>
<div class="bar" style="top:208.5px;width:302.5px;background:rgb(131, 163, 61)"></div>
<div class="val" style="top:204.5px;left:558.5px">147</div>
<div class="name" style="top:235.5px;left:117.09px;transform:scaleX(1.0758)">India</div>
<div class="fl" style="top:240.5px"><svg class="flag" width="39" height="21" viewBox="0 0 39 21"><rect width="39" height="7" fill="#ff9a3c"/><rect y="7" width="39" height="7" fill="#fff"/><rect y="14" width="39" height="7" fill="#1d8a2a"/><circle cx="19.5" cy="10.5" r="2.6" fill="none" stroke="#223388" stroke-width="0.8"/></svg></div>
<div class="pos" style="top:235.6px">5</div>
<div class="bar" style="top:240.5px;width:288.0px;background:rgb(137, 167, 70)"></div>
<div class="val" style="top:236.5px;left:544.0px">140</div>
<div class="name" style="top:267.5px;left:117.89px;transform:scaleX(0.9381)">Brasil</div>
<div class="fl" style="top:272.5px"><svg class="flag" width="39" height="21" viewBox="0 0 39 21"><rect width="39" height="21" fill="#1a9c3a"/><path d="M4 10.5 L19.5 2.5 L35 10.5 L19.5 18.5Z" fill="#f2e01a"/><circle cx="19.5" cy="10.5" r="4.8" fill="#1c2a6e"/><path d="M15 9.5 Q19.5 8 24 11" stroke="#fff" stroke-width="0.7" fill="none"/></svg></div>
<div class="pos" style="top:267.6px">6</div>
<div class="bar" style="top:272.5px;width:275.6px;background:rgb(142, 171, 79)"></div>
<div class="val" style="top:268.5px;left:531.6px">134</div>
<div class="name" style="top:299.5px;left:115.78px;transform:scaleX(0.9436)">Rusia</div>
<div class="fl" style="top:304.5px"><svg class="flag" width="39" height="21" viewBox="0 0 39 21"><rect width="39" height="7" fill="#fff"/><rect y="7" width="39" height="7" fill="#2040b0"/><rect y="14" width="39" height="7" fill="#e42a20"/></svg></div>
<div class="pos" style="top:299.6px">7</div>
<div class="bar" style="top:304.5px;width:257.1px;background:rgb(148, 175, 88)"></div>
<div class="val" style="top:300.5px;left:513.1px">125</div>
<div class="name" style="top:331.5px;left:90.4px;transform:scaleX(1.0156)">Australia</div>
<div class="fl" style="top:336.5px"><svg class="flag" width="39" height="21" viewBox="0 0 39 21"><rect width="39" height="21" fill="#1e2b7a"/><g><rect x="0" y="0" width="19" height="10.5" fill="#1e2b7a"/><path d="M0 0 L19 10.5 M19 0 L0 10.5" stroke="#fff" stroke-width="2.4"/><path d="M0 0 L19 10.5 M19 0 L0 10.5" stroke="#d8243c" stroke-width="0.9"/><path d="M9.5 0 V10.5 M0 5.25 H19" stroke="#fff" stroke-width="3.4"/><path d="M9.5 0 V10.5 M0 5.25 H19" stroke="#d8243c" stroke-width="1.8"/></g><circle cx="9.5" cy="15.8" r="1.6" fill="#fff"/><circle cx="29" cy="4" r="1" fill="#fff"/><circle cx="24.5" cy="9" r="1" fill="#fff"/><circle cx="33" cy="8" r="1" fill="#fff"/><circle cx="29" cy="17" r="1.1" fill="#fff"/></svg></div>
<div class="pos" style="top:331.6px">8</div>
<div class="bar" style="top:336.5px;width:250.9px;background:rgb(154, 179, 97)"></div>
<div class="val" style="top:332.5px;left:506.9px">122</div>
<div class="name" style="top:363.5px;left:98.03px;transform:scaleX(1.0466)">Francia</div>
<div class="fl" style="top:368.5px"><svg class="flag" width="39" height="21" viewBox="0 0 39 21"><rect width="13" height="21" fill="#1c3a9c"/><rect x="13" width="13" height="21" fill="#fff"/><rect x="26" width="13" height="21" fill="#ee2a3a"/></svg></div>
<div class="pos" style="top:363.6px">9</div>
<div class="bar" style="top:368.5px;width:246.7px;background:rgb(159, 184, 107)"></div>
<div class="val" style="top:364.5px;left:502.7px">120</div>
<div class="name" style="top:395.5px;left:106.77px;transform:scaleX(1.1124)">Japón</div>
<div class="fl" style="top:400.5px"><svg class="flag" width="39" height="21" viewBox="0 0 39 21"><rect width="39" height="21" fill="#fff"/><circle cx="19.3" cy="10.2" r="6.3" fill="#d00c27"/></svg></div>
<div class="pos" style="top:395.6px">10</div>
<div class="bar" style="top:400.5px;width:219.9px;background:rgb(165, 188, 116)"></div>
<div class="val" style="top:396.5px;left:475.9px">107</div>
<div class="name" style="top:427.5px;left:100.11px;transform:scaleX(0.9857)">Turquía</div>
<div class="fl" style="top:432.5px"><svg class="flag" width="39" height="21" viewBox="0 0 39 21"><rect width="39" height="21" fill="#ee1c25"/><circle cx="15.5" cy="10.5" r="5.5" fill="#fff"/><circle cx="17" cy="10.5" r="4.4" fill="#ee1c25"/><circle cx="22.5" cy="10.5" r="1.8" fill="#fff"/></svg></div>
<div class="pos" style="top:427.6px">11</div>
<div class="bar" style="top:432.5px;width:201.3px;background:rgb(171, 192, 125)"></div>
<div class="val" style="top:428.5px;left:457.3px">98</div>
<div class="name" style="top:459.5px;left:62.15px;transform:scaleX(1.0372)">Reino Unido</div>
<div class="fl" style="top:464.5px"><svg class="flag" width="39" height="21" viewBox="0 0 39 21"><rect width="39" height="21" fill="#1e2b6e"/><path d="M0 0 L39 21 M39 0 L0 21" stroke="#fff" stroke-width="4"/><path d="M0 0 L39 21 M39 0 L0 21" stroke="#d22a3c" stroke-width="1.5"/><path d="M19.5 0 V21 M0 10.5 H39" stroke="#fff" stroke-width="6"/><path d="M19.5 0 V21 M0 10.5 H39" stroke="#d22a3c" stroke-width="3.4"/></svg></div>
<div class="pos" style="top:459.6px">12</div>
<div class="bar" style="top:464.5px;width:199.3px;background:rgb(176, 196, 134)"></div>
<div class="val" style="top:460.5px;left:455.3px">97</div>
<div class="name" style="top:491.5px;left:98.06px;transform:scaleX(1.0275)">España</div>
<div class="fl" style="top:496.5px"><svg class="flag" width="39" height="21" viewBox="0 0 39 21"><rect width="39" height="21" fill="#d22a1e"/><rect y="5.25" width="39" height="10.5" fill="#f4c21a"/><ellipse cx="12" cy="10.5" rx="2.6" ry="3" fill="#b04a1a"/></svg></div>
<div class="pos" style="top:491.6px">13</div>
<div class="bar" style="top:496.5px;width:186.9px;background:rgb(182, 200, 143)"></div>
<div class="val" style="top:492.5px;left:442.9px">91</div>
<div class="name" style="top:523.5px;left:117.98px;transform:scaleX(1.0778)">Italia</div>
<div class="fl" style="top:528.5px"><svg class="flag" width="39" height="21" viewBox="0 0 39 21"><rect width="13" height="21" fill="#1a9a48"/><rect x="13" width="13" height="21" fill="#fff"/><rect x="26" width="13" height="21" fill="#e42a3a"/></svg></div>
<div class="pos" style="top:523.6px">14</div>
<div class="bar" style="top:528.5px;width:184.8px;background:rgb(188, 205, 152)"></div>
<div class="val" style="top:524.5px;left:440.8px">90</div>
<div class="name" style="top:555.5px;left:82.66px;transform:scaleX(1.0464)">Sudáfrica</div>
<div class="fl" style="top:560.5px"><svg class="flag" width="39" height="21" viewBox="0 0 39 21"><rect width="39" height="21" fill="#fff"/><rect width="39" height="7" fill="#e63a2a"/><rect y="14" width="39" height="7" fill="#2a3a9a"/><path d="M0 0 L15 10.5 L0 21 Z" fill="#fff"/><path d="M-1 1 L14 10.5 H40 M14 10.5 L-1 20" stroke="#1a8a3a" stroke-width="4.2" fill="none"/><path d="M0 3.5 L10.5 10.5 L0 17.5Z" fill="#f4b81a"/><path d="M0 5 L8.5 10.5 L0 16Z" fill="#111"/></svg></div>
<div class="pos" style="top:555.6px">15</div>
<div class="bar" style="top:560.5px;width:164.2px;background:rgb(193, 209, 161)"></div>
<div class="val" style="top:556.5px;left:420.2px">80</div>
<div class="name" style="top:587.5px;left:125.09px;transform:scaleX(0.9359)">EAU</div>
<div class="fl" style="top:592.5px"><svg class="flag" width="39" height="21" viewBox="0 0 39 21"><rect width="39" height="7" fill="#1a8a3a"/><rect y="7" width="39" height="7" fill="#fff"/><rect y="14" width="39" height="7" fill="#111"/><rect width="10" height="21" fill="#e8201e"/></svg></div>
<div class="pos" style="top:587.6px">15</div>
<div class="bar" style="top:592.5px;width:164.2px;background:rgb(199, 213, 170)"></div>
<div class="val" style="top:588.5px;left:420.2px">80</div>
<div id="axis"></div>
<div id="src"><span style="left:784.65px;transform:scaleX(0.8463)">Fuente:</span><span style="left:846.67px;transform:scaleX(0.8288)">Global</span><span style="left:900.65px;transform:scaleX(0.843)">Diplomacy</span><span style="left:985.72px;transform:scaleX(0.8782)">Index,</span><span style="left:1037.25px;transform:scaleX(0.8422)">Lowy</span><span style="left:1081.28px;transform:scaleX(0.9583)">Institute,</span><span style="left:1157.71px;transform:scaleX(0.8085)">EOM</span></div>
</body></html>
